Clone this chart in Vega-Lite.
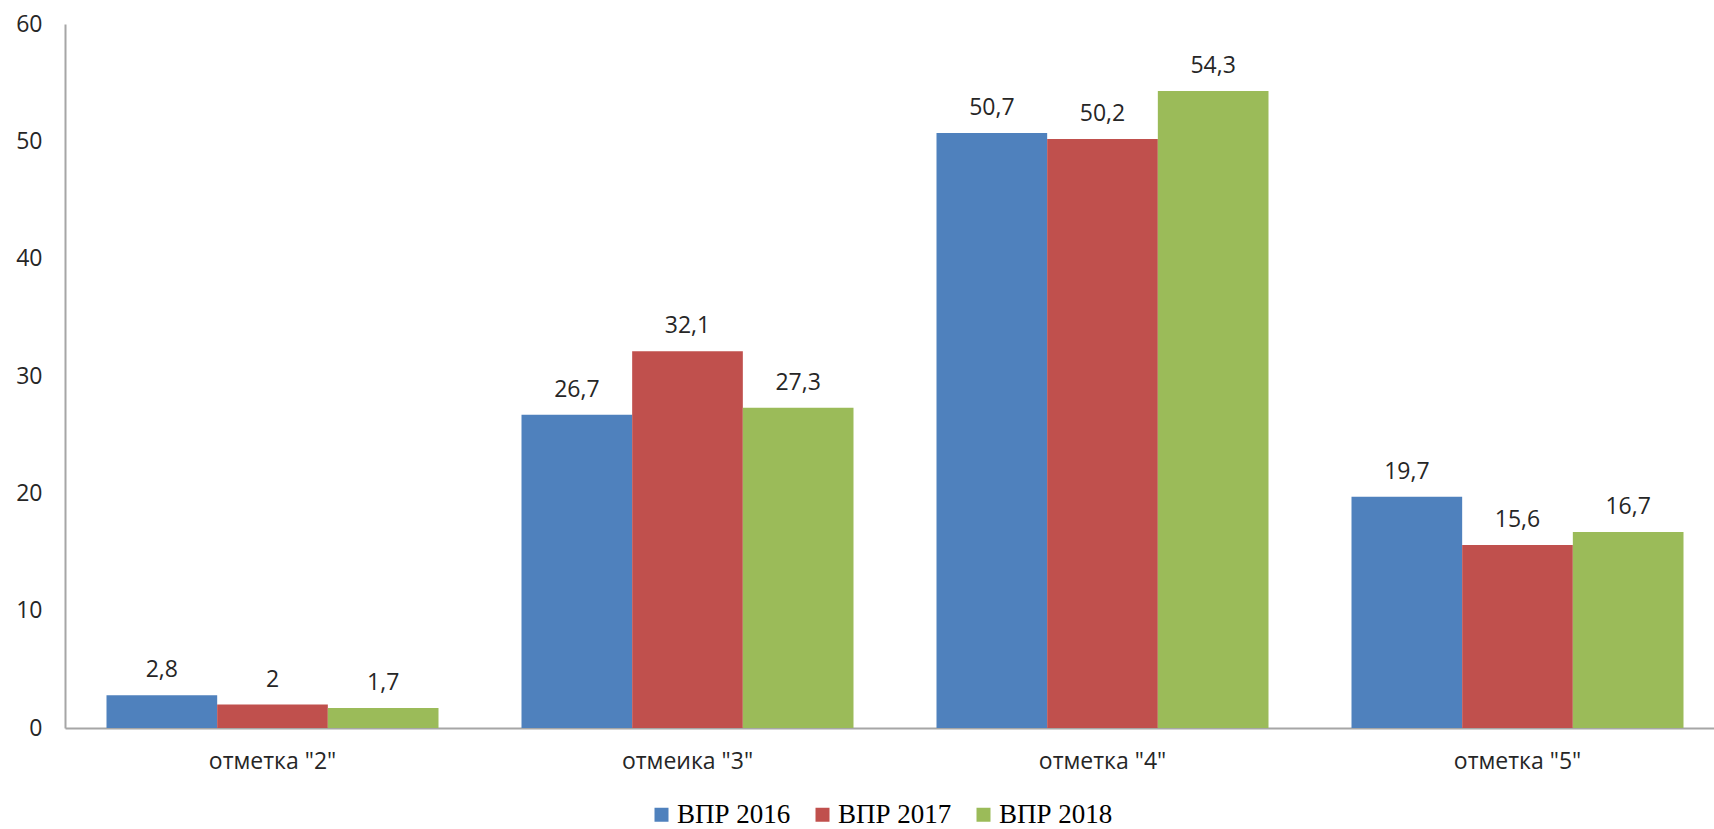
{
  "$schema": "https://vega.github.io/schema/vega-lite/v6.json",
  "width": 1660,
  "height": 704,
  "autosize": {"type": "none"},
  "padding": {"left": 65, "top": 24, "right": 0, "bottom": 101},
  "background": "white",
  "config": {
    "view": {"stroke": null},
    "locale": {"number": {"decimal": ",", "thousands": " ", "grouping": [3], "currency": ["", ""]}}
  },
  "data": {
    "values": [
      {"cat": "отметка \"2\"", "series": "ВПР 2016", "value": 2.8},
      {"cat": "отметка \"2\"", "series": "ВПР 2017", "value": 2},
      {"cat": "отметка \"2\"", "series": "ВПР 2018", "value": 1.7},
      {"cat": "отмеика \"3\"", "series": "ВПР 2016", "value": 26.7},
      {"cat": "отмеика \"3\"", "series": "ВПР 2017", "value": 32.1},
      {"cat": "отмеика \"3\"", "series": "ВПР 2018", "value": 27.3},
      {"cat": "отметка \"4\"", "series": "ВПР 2016", "value": 50.7},
      {"cat": "отметка \"4\"", "series": "ВПР 2017", "value": 50.2},
      {"cat": "отметка \"4\"", "series": "ВПР 2018", "value": 54.3},
      {"cat": "отметка \"5\"", "series": "ВПР 2016", "value": 19.7},
      {"cat": "отметка \"5\"", "series": "ВПР 2017", "value": 15.6},
      {"cat": "отметка \"5\"", "series": "ВПР 2018", "value": 16.7}
    ]
  },
  "encoding": {
    "x": {
      "field": "cat", "type": "nominal", "sort": null,
      "scale": {"paddingInner": 0.2, "paddingOuter": 0.1},
      "axis": {
        "title": null, "labelAngle": 0, "ticks": false,
        "domainColor": "#a6a6a6", "domainWidth": 2,
        "labelFont": "Open Sans", "labelFontSize": 23, "labelColor": "#262626",
        "labelPadding": 22
      }
    },
    "xOffset": {"field": "series", "type": "nominal"},
    "y": {
      "field": "value", "type": "quantitative",
      "scale": {"domain": [0, 60], "nice": false},
      "axis": {
        "title": null, "values": [0, 10, 20, 30, 40, 50, 60], "ticks": false, "grid": false,
        "domainColor": "#a6a6a6", "domainWidth": 2,
        "labelFont": "Open Sans", "labelFontSize": 23, "labelColor": "#262626",
        "labelPadding": 23
      }
    }
  },
  "layer": [
    {
      "mark": {"type": "bar"},
      "encoding": {
        "color": {
          "field": "series", "type": "nominal",
          "scale": {"domain": ["ВПР 2016", "ВПР 2017", "ВПР 2018"], "range": ["#4F81BD", "#C0504D", "#9BBB59"]},
          "legend": {
            "title": null, "orient": "none", "legendX": 583, "legendY": 777, "direction": "horizontal",
            "symbolType": "square", "symbolSize": 196, "symbolStrokeWidth": 0,
            "labelFont": "Liberation Serif", "labelFontSize": 27, "labelColor": "#000000",
            "columnPadding": 18, "labelOffset": 2
          }
        }
      }
    },
    {
      "mark": {"type": "text", "baseline": "alphabetic", "dy": -18, "font": "Open Sans", "fontSize": 23, "color": "#262626"},
      "encoding": {
        "text": {"field": "value", "type": "quantitative", "format": "~g"}
      }
    }
  ]
}
